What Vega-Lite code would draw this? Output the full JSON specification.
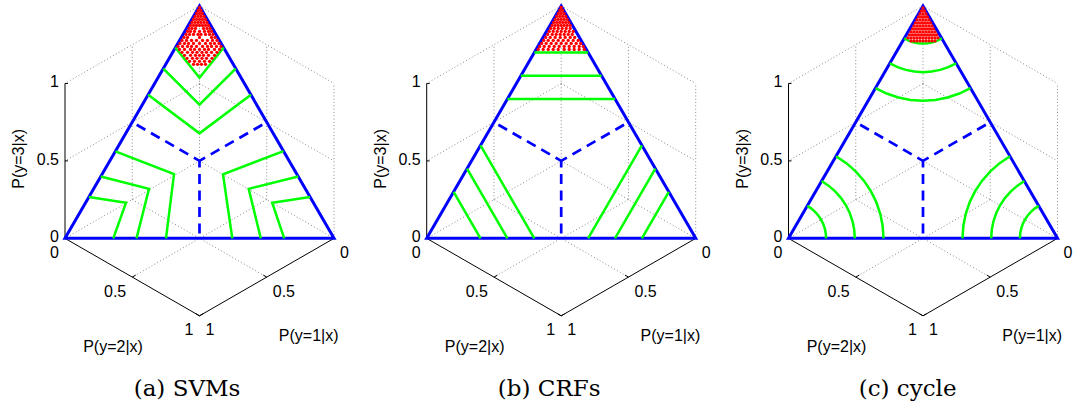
{
"$schema": "https://vega.github.io/schema/vega-lite/v6.json",
"width": 1078, "height": 406,
"autosize": {"type": "fit", "contains": "padding"},
"padding": 0,
"background": "#ffffff",
"config": {"view": {"stroke": null}},
"data": {"values": [
{"p":"all","kind":"grid","id":"g1","k":0,"dx":0,"y":160.3},{"p":"all","kind":"grid","id":"g1","k":1,"dx":134.5,"y":237.95},
{"p":"all","kind":"grid","id":"g2","k":0,"dx":0,"y":160.3},{"p":"all","kind":"grid","id":"g2","k":1,"dx":-134.5,"y":237.95},
{"p":"all","kind":"grid","id":"g3","k":0,"dx":-67.25,"y":199.1},{"p":"all","kind":"grid","id":"g3","k":1,"dx":67.25,"y":276.8},
{"p":"all","kind":"grid","id":"g4","k":0,"dx":67.25,"y":199.1},{"p":"all","kind":"grid","id":"g4","k":1,"dx":-67.25,"y":276.8},
{"p":"all","kind":"grid","id":"g5","k":0,"dx":0,"y":160.3},{"p":"all","kind":"grid","id":"g5","k":1,"dx":0,"y":5},
{"p":"all","kind":"grid","id":"g6","k":0,"dx":67.25,"y":199.1},{"p":"all","kind":"grid","id":"g6","k":1,"dx":67.25,"y":43.8},
{"p":"all","kind":"grid","id":"g7","k":0,"dx":134.5,"y":237.95},{"p":"all","kind":"grid","id":"g7","k":1,"dx":134.5,"y":82.65},
{"p":"all","kind":"grid","id":"g8","k":0,"dx":0,"y":82.65},{"p":"all","kind":"grid","id":"g8","k":1,"dx":134.5,"y":160.3},
{"p":"all","kind":"grid","id":"g9","k":0,"dx":0,"y":5},{"p":"all","kind":"grid","id":"g9","k":1,"dx":134.5,"y":82.65},
{"p":"all","kind":"grid","id":"g10","k":0,"dx":-67.25,"y":199.1},{"p":"all","kind":"grid","id":"g10","k":1,"dx":-67.25,"y":43.8},
{"p":"all","kind":"grid","id":"g11","k":0,"dx":0,"y":82.65},{"p":"all","kind":"grid","id":"g11","k":1,"dx":-134.5,"y":160.3},
{"p":"all","kind":"grid","id":"g12","k":0,"dx":0,"y":5},{"p":"all","kind":"grid","id":"g12","k":1,"dx":-134.5,"y":82.65},
{"p":"all","kind":"axis","id":"ax1","k":0,"dx":-134.5,"y":237.95},{"p":"all","kind":"axis","id":"ax1","k":1,"dx":-134.5,"y":82.65},
{"p":"all","kind":"axis","id":"ax2","k":0,"dx":-134.5,"y":237.95},{"p":"all","kind":"axis","id":"ax2","k":1,"dx":0,"y":315.6},
{"p":"all","kind":"axis","id":"ax3","k":0,"dx":0,"y":315.6},{"p":"all","kind":"axis","id":"ax3","k":1,"dx":134.5,"y":237.95},
{"p":"all","kind":"axis","id":"tk1","k":0,"dx":-134.5,"y":82.65},{"p":"all","kind":"axis","id":"tk1","k":1,"dx":-131.5,"y":82.65},
{"p":"all","kind":"axis","id":"tk2","k":0,"dx":-134.5,"y":160.3},{"p":"all","kind":"axis","id":"tk2","k":1,"dx":-131.5,"y":160.3},
{"p":"all","kind":"axis","id":"tk3","k":0,"dx":-67.25,"y":276.8},{"p":"all","kind":"axis","id":"tk3","k":1,"dx":-63.8,"y":274.8},
{"p":"all","kind":"axis","id":"tk4","k":0,"dx":0,"y":315.6},{"p":"all","kind":"axis","id":"tk4","k":1,"dx":3.46,"y":313.6},
{"p":"all","kind":"axis","id":"tk5","k":0,"dx":67.25,"y":276.8},{"p":"all","kind":"axis","id":"tk5","k":1,"dx":63.8,"y":274.8},
{"p":"all","kind":"axis","id":"tk6","k":0,"dx":0,"y":315.6},{"p":"all","kind":"axis","id":"tk6","k":1,"dx":-3.46,"y":313.6},
{"p":"all","kind":"tri","id":"tri","k":0,"dx":-134.5,"y":237.95},{"p":"all","kind":"tri","id":"tri","k":1,"dx":134.5,"y":237.95},{"p":"all","kind":"tri","id":"tri","k":2,"dx":0,"y":5},{"p":"all","kind":"tri","id":"tri","k":3,"dx":-134.5,"y":237.95},{"p":"all","kind":"tri","id":"tri","k":4,"dx":134.5,"y":237.95},
{"p":"all","kind":"bnd","id":"b1","k":0,"dx":0,"y":160.3},{"p":"all","kind":"bnd","id":"b1","k":1,"dx":0,"y":237.95},
{"p":"all","kind":"bnd","id":"b2","k":0,"dx":0,"y":160.3},{"p":"all","kind":"bnd","id":"b2","k":1,"dx":-67.25,"y":121.5},
{"p":"all","kind":"bnd","id":"b3","k":0,"dx":0,"y":160.3},{"p":"all","kind":"bnd","id":"b3","k":1,"dx":67.25,"y":121.5},
{"p":"all","kind":"zr","text":"1","dx":-140.5,"y":81.5},{"p":"all","kind":"zr","text":"0.5","dx":-140.5,"y":159},{"p":"all","kind":"zr","text":"0","dx":-140.5,"y":237},
{"p":"all","kind":"zr","text":"0","dx":-140.5,"y":252.3},{"p":"all","kind":"zr","text":"0.5","dx":-73.25,"y":291.5},{"p":"all","kind":"zr","text":"1","dx":-6,"y":330},
{"p":"all","kind":"xl","text":"0","dx":140.5,"y":252.3},{"p":"all","kind":"xl","text":"0.5","dx":73.25,"y":291.5},{"p":"all","kind":"xl","text":"1","dx":6,"y":330},
{"p":"all","kind":"t3","text":"P(y=3|x)","dx":-180.5,"y":158.3},
{"p":"all","kind":"t12","text":"P(y=2|x)","dx":-86.5,"y":346.5},
{"p":"all","kind":"t12","text":"P(y=1|x)","dx":109.2,"y":335.5},
{"p":"a","kind":"cap","text":"(a) SVMs","dx":-12.5,"y":389},
{"p":"b","kind":"cap","text":"(b) CRFs","dx":-12,"y":389},
{"p":"c","kind":"cap","text":"(c) cycle","dx":-15.4,"y":389},
{"p":"a","kind":"ctr","id":"v1","k":0,"dx":-24.2,"y":46.7},{"p":"a","kind":"ctr","id":"v1","k":1,"dx":0,"y":77},{"p":"a","kind":"ctr","id":"v1","k":2,"dx":24.2,"y":46.7},
{"p":"a","kind":"ctr","id":"v2","k":0,"dx":-36.2,"y":67.7},{"p":"a","kind":"ctr","id":"v2","k":1,"dx":0,"y":104},{"p":"a","kind":"ctr","id":"v2","k":2,"dx":36.2,"y":67.7},
{"p":"a","kind":"ctr","id":"v3","k":0,"dx":-51.4,"y":94},{"p":"a","kind":"ctr","id":"v3","k":1,"dx":0,"y":132.7},{"p":"a","kind":"ctr","id":"v3","k":2,"dx":51.4,"y":94},
{"p":"a","kind":"ctr","id":"l1","k":0,"dx":-84.1,"y":150.7},{"p":"a","kind":"ctr","id":"l1","k":1,"dx":-25.5,"y":173.5},{"p":"a","kind":"ctr","id":"l1","k":2,"dx":-33.5,"y":238},
{"p":"a","kind":"ctr","id":"l2","k":0,"dx":-98.7,"y":176},{"p":"a","kind":"ctr","id":"l2","k":1,"dx":-50.5,"y":188.3},{"p":"a","kind":"ctr","id":"l2","k":2,"dx":-63,"y":238},
{"p":"a","kind":"ctr","id":"l3","k":0,"dx":-110.6,"y":196.5},{"p":"a","kind":"ctr","id":"l3","k":1,"dx":-73.5,"y":202.2},{"p":"a","kind":"ctr","id":"l3","k":2,"dx":-86.2,"y":238},
{"p":"a","kind":"ctr","id":"r1","k":0,"dx":84,"y":150.5},{"p":"a","kind":"ctr","id":"r1","k":1,"dx":23.5,"y":173.7},{"p":"a","kind":"ctr","id":"r1","k":2,"dx":32.8,"y":238},
{"p":"a","kind":"ctr","id":"r2","k":0,"dx":98.7,"y":176},{"p":"a","kind":"ctr","id":"r2","k":1,"dx":49.2,"y":188.3},{"p":"a","kind":"ctr","id":"r2","k":2,"dx":61.3,"y":238},
{"p":"a","kind":"ctr","id":"r3","k":0,"dx":110.6,"y":196.5},{"p":"a","kind":"ctr","id":"r3","k":1,"dx":72.7,"y":202.2},{"p":"a","kind":"ctr","id":"r3","k":2,"dx":84.7,"y":238},
{"p":"b","kind":"ctr","id":"h1","k":0,"dx":-26.9,"y":51.6},{"p":"b","kind":"ctr","id":"h1","k":1,"dx":26.9,"y":51.6},
{"p":"b","kind":"ctr","id":"h2","k":0,"dx":-40.35,"y":74.9},{"p":"b","kind":"ctr","id":"h2","k":1,"dx":40.35,"y":74.9},
{"p":"b","kind":"ctr","id":"h3","k":0,"dx":-53.8,"y":98.2},{"p":"b","kind":"ctr","id":"h3","k":1,"dx":53.8,"y":98.2},
{"p":"b","kind":"ctr","id":"l1","k":0,"dx":-80.7,"y":144.8},{"p":"b","kind":"ctr","id":"l1","k":1,"dx":-26.9,"y":237.95},
{"p":"b","kind":"ctr","id":"l2","k":0,"dx":-94.15,"y":168.1},{"p":"b","kind":"ctr","id":"l2","k":1,"dx":-53.8,"y":237.95},
{"p":"b","kind":"ctr","id":"l3","k":0,"dx":-107.6,"y":191.4},{"p":"b","kind":"ctr","id":"l3","k":1,"dx":-80.7,"y":237.95},
{"p":"b","kind":"ctr","id":"r1","k":0,"dx":80.7,"y":144.8},{"p":"b","kind":"ctr","id":"r1","k":1,"dx":26.9,"y":237.95},
{"p":"b","kind":"ctr","id":"r2","k":0,"dx":94.15,"y":168.1},{"p":"b","kind":"ctr","id":"r2","k":1,"dx":53.8,"y":237.95},
{"p":"b","kind":"ctr","id":"r3","k":0,"dx":107.6,"y":191.4},{"p":"b","kind":"ctr","id":"r3","k":1,"dx":80.7,"y":237.95},
{"p":"c","kind":"ctr","id":"t1","k":0,"dx":-18.8,"y":37.56},{"p":"c","kind":"ctr","id":"t1","k":1,"dx":-14.39,"y":39.74},{"p":"c","kind":"ctr","id":"t1","k":2,"dx":-9.73,"y":41.32},{"p":"c","kind":"ctr","id":"t1","k":3,"dx":-4.91,"y":42.28},{"p":"c","kind":"ctr","id":"t1","k":4,"dx":0,"y":42.6},{"p":"c","kind":"ctr","id":"t1","k":5,"dx":4.91,"y":42.28},{"p":"c","kind":"ctr","id":"t1","k":6,"dx":9.73,"y":41.32},{"p":"c","kind":"ctr","id":"t1","k":7,"dx":14.39,"y":39.74},{"p":"c","kind":"ctr","id":"t1","k":8,"dx":18.8,"y":37.56},
{"p":"c","kind":"ctr","id":"t2","k":0,"dx":-33.15,"y":62.42},{"p":"c","kind":"ctr","id":"t2","k":1,"dx":-25.37,"y":66.25},{"p":"c","kind":"ctr","id":"t2","k":2,"dx":-17.16,"y":69.04},{"p":"c","kind":"ctr","id":"t2","k":3,"dx":-8.65,"y":70.73},{"p":"c","kind":"ctr","id":"t2","k":4,"dx":0,"y":71.3},{"p":"c","kind":"ctr","id":"t2","k":5,"dx":8.65,"y":70.73},{"p":"c","kind":"ctr","id":"t2","k":6,"dx":17.16,"y":69.04},{"p":"c","kind":"ctr","id":"t2","k":7,"dx":25.37,"y":66.25},{"p":"c","kind":"ctr","id":"t2","k":8,"dx":33.15,"y":62.42},
{"p":"c","kind":"ctr","id":"t3","k":0,"dx":-47.5,"y":87.27},{"p":"c","kind":"ctr","id":"t3","k":1,"dx":-36.36,"y":92.77},{"p":"c","kind":"ctr","id":"t3","k":2,"dx":-24.59,"y":96.76},{"p":"c","kind":"ctr","id":"t3","k":3,"dx":-12.4,"y":99.18},{"p":"c","kind":"ctr","id":"t3","k":4,"dx":0,"y":100},{"p":"c","kind":"ctr","id":"t3","k":5,"dx":12.4,"y":99.18},{"p":"c","kind":"ctr","id":"t3","k":6,"dx":24.59,"y":96.76},{"p":"c","kind":"ctr","id":"t3","k":7,"dx":36.36,"y":92.77},{"p":"c","kind":"ctr","id":"t3","k":8,"dx":47.5,"y":87.27},
{"p":"c","kind":"ctr","id":"l1","k":0,"dx":-115.7,"y":205.39},{"p":"c","kind":"ctr","id":"l1","k":1,"dx":-111.61,"y":208.12},{"p":"c","kind":"ctr","id":"l1","k":2,"dx":-107.91,"y":211.36},{"p":"c","kind":"ctr","id":"l1","k":3,"dx":-104.67,"y":215.06},{"p":"c","kind":"ctr","id":"l1","k":4,"dx":-101.94,"y":219.15},{"p":"c","kind":"ctr","id":"l1","k":5,"dx":-99.76,"y":223.56},{"p":"c","kind":"ctr","id":"l1","k":6,"dx":-98.18,"y":228.22},{"p":"c","kind":"ctr","id":"l1","k":7,"dx":-97.22,"y":233.04},{"p":"c","kind":"ctr","id":"l1","k":8,"dx":-96.9,"y":237.95},
{"p":"c","kind":"ctr","id":"l2","k":0,"dx":-101.35,"y":180.53},{"p":"c","kind":"ctr","id":"l2","k":1,"dx":-94.14,"y":185.35},{"p":"c","kind":"ctr","id":"l2","k":2,"dx":-87.62,"y":191.07},{"p":"c","kind":"ctr","id":"l2","k":3,"dx":-81.9,"y":197.59},{"p":"c","kind":"ctr","id":"l2","k":4,"dx":-77.08,"y":204.8},{"p":"c","kind":"ctr","id":"l2","k":5,"dx":-73.25,"y":212.58},{"p":"c","kind":"ctr","id":"l2","k":6,"dx":-70.46,"y":220.79},{"p":"c","kind":"ctr","id":"l2","k":7,"dx":-68.77,"y":229.3},{"p":"c","kind":"ctr","id":"l2","k":8,"dx":-68.2,"y":237.95},
{"p":"c","kind":"ctr","id":"l3","k":0,"dx":-87.0,"y":155.68},{"p":"c","kind":"ctr","id":"l3","k":1,"dx":-76.66,"y":162.58},{"p":"c","kind":"ctr","id":"l3","k":2,"dx":-67.33,"y":170.78},{"p":"c","kind":"ctr","id":"l3","k":3,"dx":-59.13,"y":180.11},{"p":"c","kind":"ctr","id":"l3","k":4,"dx":-52.23,"y":190.45},{"p":"c","kind":"ctr","id":"l3","k":5,"dx":-46.73,"y":201.59},{"p":"c","kind":"ctr","id":"l3","k":6,"dx":-42.74,"y":213.36},{"p":"c","kind":"ctr","id":"l3","k":7,"dx":-40.32,"y":225.55},{"p":"c","kind":"ctr","id":"l3","k":8,"dx":-39.5,"y":237.95},
{"p":"c","kind":"ctr","id":"r1","k":0,"dx":115.7,"y":205.39},{"p":"c","kind":"ctr","id":"r1","k":1,"dx":111.61,"y":208.12},{"p":"c","kind":"ctr","id":"r1","k":2,"dx":107.91,"y":211.36},{"p":"c","kind":"ctr","id":"r1","k":3,"dx":104.67,"y":215.06},{"p":"c","kind":"ctr","id":"r1","k":4,"dx":101.94,"y":219.15},{"p":"c","kind":"ctr","id":"r1","k":5,"dx":99.76,"y":223.56},{"p":"c","kind":"ctr","id":"r1","k":6,"dx":98.18,"y":228.22},{"p":"c","kind":"ctr","id":"r1","k":7,"dx":97.22,"y":233.04},{"p":"c","kind":"ctr","id":"r1","k":8,"dx":96.9,"y":237.95},
{"p":"c","kind":"ctr","id":"r2","k":0,"dx":101.35,"y":180.53},{"p":"c","kind":"ctr","id":"r2","k":1,"dx":94.14,"y":185.35},{"p":"c","kind":"ctr","id":"r2","k":2,"dx":87.62,"y":191.07},{"p":"c","kind":"ctr","id":"r2","k":3,"dx":81.9,"y":197.59},{"p":"c","kind":"ctr","id":"r2","k":4,"dx":77.08,"y":204.8},{"p":"c","kind":"ctr","id":"r2","k":5,"dx":73.25,"y":212.58},{"p":"c","kind":"ctr","id":"r2","k":6,"dx":70.46,"y":220.79},{"p":"c","kind":"ctr","id":"r2","k":7,"dx":68.77,"y":229.3},{"p":"c","kind":"ctr","id":"r2","k":8,"dx":68.2,"y":237.95},
{"p":"c","kind":"ctr","id":"r3","k":0,"dx":87.0,"y":155.68},{"p":"c","kind":"ctr","id":"r3","k":1,"dx":76.66,"y":162.58},{"p":"c","kind":"ctr","id":"r3","k":2,"dx":67.33,"y":170.78},{"p":"c","kind":"ctr","id":"r3","k":3,"dx":59.13,"y":180.11},{"p":"c","kind":"ctr","id":"r3","k":4,"dx":52.23,"y":190.45},{"p":"c","kind":"ctr","id":"r3","k":5,"dx":46.73,"y":201.59},{"p":"c","kind":"ctr","id":"r3","k":6,"dx":42.74,"y":213.36},{"p":"c","kind":"ctr","id":"r3","k":7,"dx":40.32,"y":225.55},{"p":"c","kind":"ctr","id":"r3","k":8,"dx":39.5,"y":237.95},
{"p":"a","kind":"dot","dx":0,"y":6.5},
{"p":"a","kind":"dot","dx":-1.3,"y":9.5},{"p":"a","kind":"dot","dx":1.3,"y":9.5},
{"p":"a","kind":"dot","dx":-2.8,"y":12.5},{"p":"a","kind":"dot","dx":0,"y":12.5},{"p":"a","kind":"dot","dx":2.8,"y":12.5},
{"p":"a","kind":"dot","dx":-4.5,"y":15.5},{"p":"a","kind":"dot","dx":-1.5,"y":15.5},{"p":"a","kind":"dot","dx":1.5,"y":15.5},{"p":"a","kind":"dot","dx":4.5,"y":15.5},
{"p":"a","kind":"dot","dx":-6,"y":18.5},{"p":"a","kind":"dot","dx":-3,"y":18.5},{"p":"a","kind":"dot","dx":0,"y":18.5},{"p":"a","kind":"dot","dx":3,"y":18.5},{"p":"a","kind":"dot","dx":6,"y":18.5},
{"p":"a","kind":"dot","dx":-7.5,"y":21.5},{"p":"a","kind":"dot","dx":-4.5,"y":21.5},{"p":"a","kind":"dot","dx":-1.5,"y":21.5},{"p":"a","kind":"dot","dx":1.5,"y":21.5},{"p":"a","kind":"dot","dx":4.5,"y":21.5},{"p":"a","kind":"dot","dx":7.5,"y":21.5},
{"p":"a","kind":"dot","dx":-9,"y":24.5},{"p":"a","kind":"dot","dx":-6,"y":24.5},{"p":"a","kind":"dot","dx":-3,"y":24.5},{"p":"a","kind":"dot","dx":0,"y":24.5},{"p":"a","kind":"dot","dx":3,"y":24.5},{"p":"a","kind":"dot","dx":6,"y":24.5},{"p":"a","kind":"dot","dx":9,"y":24.5},
{"p":"a","kind":"dot","dx":-10.5,"y":27.5},{"p":"a","kind":"dot","dx":-7.5,"y":27.5},{"p":"a","kind":"dot","dx":-4,"y":27.5},{"p":"a","kind":"dot","dx":4,"y":27.5},{"p":"a","kind":"dot","dx":7.5,"y":27.5},{"p":"a","kind":"dot","dx":10.5,"y":27.5},
{"p":"a","kind":"dot","dx":-12,"y":30.5},{"p":"a","kind":"dot","dx":-9,"y":30.5},{"p":"a","kind":"dot","dx":-5,"y":30.5},{"p":"a","kind":"dot","dx":0,"y":30.5},{"p":"a","kind":"dot","dx":5,"y":30.5},{"p":"a","kind":"dot","dx":9,"y":30.5},{"p":"a","kind":"dot","dx":12,"y":30.5},
{"p":"a","kind":"dot","dx":-13.5,"y":33.5},{"p":"a","kind":"dot","dx":-10,"y":33.5},{"p":"a","kind":"dot","dx":-6,"y":33.5},{"p":"a","kind":"dot","dx":-1.5,"y":33.5},{"p":"a","kind":"dot","dx":1.5,"y":33.5},{"p":"a","kind":"dot","dx":6,"y":33.5},{"p":"a","kind":"dot","dx":10,"y":33.5},{"p":"a","kind":"dot","dx":13.5,"y":33.5},
{"p":"a","kind":"dot","dx":-15.5,"y":36.5},{"p":"a","kind":"dot","dx":-12,"y":36.5},{"p":"a","kind":"dot","dx":0,"y":36.5},{"p":"a","kind":"dot","dx":12,"y":36.5},{"p":"a","kind":"dot","dx":15.5,"y":36.5},
{"p":"a","kind":"dot","dx":-17.5,"y":39.5},{"p":"a","kind":"dot","dx":-13,"y":39.5},{"p":"a","kind":"dot","dx":-8,"y":39.5},{"p":"a","kind":"dot","dx":-3,"y":39.5},{"p":"a","kind":"dot","dx":3,"y":39.5},{"p":"a","kind":"dot","dx":8,"y":39.5},{"p":"a","kind":"dot","dx":13,"y":39.5},{"p":"a","kind":"dot","dx":17.5,"y":39.5},
{"p":"a","kind":"dot","dx":-19.5,"y":42.5},{"p":"a","kind":"dot","dx":-15,"y":42.5},{"p":"a","kind":"dot","dx":-11,"y":42.5},{"p":"a","kind":"dot","dx":-6,"y":42.5},{"p":"a","kind":"dot","dx":0,"y":42.5},{"p":"a","kind":"dot","dx":6,"y":42.5},{"p":"a","kind":"dot","dx":11,"y":42.5},{"p":"a","kind":"dot","dx":15,"y":42.5},{"p":"a","kind":"dot","dx":19.5,"y":42.5},
{"p":"a","kind":"dot","dx":-21.5,"y":45.5},{"p":"a","kind":"dot","dx":-17,"y":45.5},{"p":"a","kind":"dot","dx":-12,"y":45.5},{"p":"a","kind":"dot","dx":-8,"y":45.5},{"p":"a","kind":"dot","dx":-3,"y":45.5},{"p":"a","kind":"dot","dx":3,"y":45.5},{"p":"a","kind":"dot","dx":8,"y":45.5},{"p":"a","kind":"dot","dx":12,"y":45.5},{"p":"a","kind":"dot","dx":17,"y":45.5},{"p":"a","kind":"dot","dx":21.5,"y":45.5},
{"p":"a","kind":"dot","dx":-20,"y":48.5},{"p":"a","kind":"dot","dx":-15,"y":48.5},{"p":"a","kind":"dot","dx":-9,"y":48.5},{"p":"a","kind":"dot","dx":-5,"y":48.5},{"p":"a","kind":"dot","dx":0,"y":48.5},{"p":"a","kind":"dot","dx":5,"y":48.5},{"p":"a","kind":"dot","dx":9,"y":48.5},{"p":"a","kind":"dot","dx":15,"y":48.5},{"p":"a","kind":"dot","dx":20,"y":48.5},
{"p":"a","kind":"dot","dx":-17.5,"y":51.5},{"p":"a","kind":"dot","dx":-12,"y":51.5},{"p":"a","kind":"dot","dx":-7,"y":51.5},{"p":"a","kind":"dot","dx":-2.5,"y":51.5},{"p":"a","kind":"dot","dx":2.5,"y":51.5},{"p":"a","kind":"dot","dx":7,"y":51.5},{"p":"a","kind":"dot","dx":12,"y":51.5},{"p":"a","kind":"dot","dx":17.5,"y":51.5},
{"p":"a","kind":"dot","dx":-15,"y":54.5},{"p":"a","kind":"dot","dx":-9,"y":54.5},{"p":"a","kind":"dot","dx":-4,"y":54.5},{"p":"a","kind":"dot","dx":0,"y":54.5},{"p":"a","kind":"dot","dx":4,"y":54.5},{"p":"a","kind":"dot","dx":9,"y":54.5},{"p":"a","kind":"dot","dx":15,"y":54.5},
{"p":"a","kind":"dot","dx":-12.5,"y":57.5},{"p":"a","kind":"dot","dx":-7,"y":57.5},{"p":"a","kind":"dot","dx":-2.5,"y":57.5},{"p":"a","kind":"dot","dx":2.5,"y":57.5},{"p":"a","kind":"dot","dx":7,"y":57.5},{"p":"a","kind":"dot","dx":12.5,"y":57.5},
{"p":"a","kind":"dot","dx":-10,"y":60.5},{"p":"a","kind":"dot","dx":-5,"y":60.5},{"p":"a","kind":"dot","dx":0,"y":60.5},{"p":"a","kind":"dot","dx":5,"y":60.5},{"p":"a","kind":"dot","dx":10,"y":60.5},
{"p":"a","kind":"dot","dx":-6,"y":63.5},{"p":"a","kind":"dot","dx":-2,"y":63.5},{"p":"a","kind":"dot","dx":2,"y":63.5},{"p":"a","kind":"dot","dx":6,"y":63.5},
{"p":"b","kind":"dot","dx":0,"y":6.5},
{"p":"b","kind":"dot","dx":-1.3,"y":9.5},{"p":"b","kind":"dot","dx":1.3,"y":9.5},
{"p":"b","kind":"dot","dx":-2.8,"y":12.5},{"p":"b","kind":"dot","dx":0,"y":12.5},{"p":"b","kind":"dot","dx":2.8,"y":12.5},
{"p":"b","kind":"dot","dx":-4.5,"y":15.5},{"p":"b","kind":"dot","dx":-1.5,"y":15.5},{"p":"b","kind":"dot","dx":1.5,"y":15.5},{"p":"b","kind":"dot","dx":4.5,"y":15.5},
{"p":"b","kind":"dot","dx":-6,"y":18.5},{"p":"b","kind":"dot","dx":-3,"y":18.5},{"p":"b","kind":"dot","dx":0,"y":18.5},{"p":"b","kind":"dot","dx":3,"y":18.5},{"p":"b","kind":"dot","dx":6,"y":18.5},
{"p":"b","kind":"dot","dx":-7.5,"y":21.5},{"p":"b","kind":"dot","dx":-4.5,"y":21.5},{"p":"b","kind":"dot","dx":-1.5,"y":21.5},{"p":"b","kind":"dot","dx":1.5,"y":21.5},{"p":"b","kind":"dot","dx":4.5,"y":21.5},{"p":"b","kind":"dot","dx":7.5,"y":21.5},
{"p":"b","kind":"dot","dx":-9,"y":24.5},{"p":"b","kind":"dot","dx":-6,"y":24.5},{"p":"b","kind":"dot","dx":-3,"y":24.5},{"p":"b","kind":"dot","dx":0,"y":24.5},{"p":"b","kind":"dot","dx":3,"y":24.5},{"p":"b","kind":"dot","dx":6,"y":24.5},{"p":"b","kind":"dot","dx":9,"y":24.5},
{"p":"b","kind":"dot","dx":-10.5,"y":27.5},{"p":"b","kind":"dot","dx":-7,"y":27.5},{"p":"b","kind":"dot","dx":-3,"y":27.5},{"p":"b","kind":"dot","dx":1,"y":27.5},{"p":"b","kind":"dot","dx":5,"y":27.5},{"p":"b","kind":"dot","dx":9,"y":27.5},
{"p":"b","kind":"dot","dx":-12,"y":30.5},{"p":"b","kind":"dot","dx":-8,"y":30.5},{"p":"b","kind":"dot","dx":-4,"y":30.5},{"p":"b","kind":"dot","dx":0,"y":30.5},{"p":"b","kind":"dot","dx":4,"y":30.5},{"p":"b","kind":"dot","dx":8,"y":30.5},{"p":"b","kind":"dot","dx":12,"y":30.5},
{"p":"b","kind":"dot","dx":-13.5,"y":33.5},{"p":"b","kind":"dot","dx":-9,"y":33.5},{"p":"b","kind":"dot","dx":-5,"y":33.5},{"p":"b","kind":"dot","dx":-1,"y":33.5},{"p":"b","kind":"dot","dx":3,"y":33.5},{"p":"b","kind":"dot","dx":7,"y":33.5},{"p":"b","kind":"dot","dx":11,"y":33.5},
{"p":"b","kind":"dot","dx":-15.5,"y":36.5},{"p":"b","kind":"dot","dx":-11,"y":36.5},{"p":"b","kind":"dot","dx":-6,"y":36.5},{"p":"b","kind":"dot","dx":-1,"y":36.5},{"p":"b","kind":"dot","dx":4,"y":36.5},{"p":"b","kind":"dot","dx":9,"y":36.5},{"p":"b","kind":"dot","dx":13.5,"y":36.5},
{"p":"b","kind":"dot","dx":-17.5,"y":39.5},{"p":"b","kind":"dot","dx":-13,"y":39.5},{"p":"b","kind":"dot","dx":-8,"y":39.5},{"p":"b","kind":"dot","dx":-3,"y":39.5},{"p":"b","kind":"dot","dx":2,"y":39.5},{"p":"b","kind":"dot","dx":7,"y":39.5},{"p":"b","kind":"dot","dx":12,"y":39.5},{"p":"b","kind":"dot","dx":17,"y":39.5},
{"p":"b","kind":"dot","dx":-19.5,"y":42.5},{"p":"b","kind":"dot","dx":-15,"y":42.5},{"p":"b","kind":"dot","dx":-10,"y":42.5},{"p":"b","kind":"dot","dx":-5,"y":42.5},{"p":"b","kind":"dot","dx":0,"y":42.5},{"p":"b","kind":"dot","dx":5,"y":42.5},{"p":"b","kind":"dot","dx":10,"y":42.5},{"p":"b","kind":"dot","dx":15,"y":42.5},{"p":"b","kind":"dot","dx":19.5,"y":42.5},
{"p":"b","kind":"dot","dx":-21.5,"y":45.5},{"p":"b","kind":"dot","dx":-17,"y":45.5},{"p":"b","kind":"dot","dx":-12,"y":45.5},{"p":"b","kind":"dot","dx":-7,"y":45.5},{"p":"b","kind":"dot","dx":-2,"y":45.5},{"p":"b","kind":"dot","dx":3,"y":45.5},{"p":"b","kind":"dot","dx":8,"y":45.5},{"p":"b","kind":"dot","dx":13,"y":45.5},{"p":"b","kind":"dot","dx":18,"y":45.5},{"p":"b","kind":"dot","dx":22,"y":45.5},
{"p":"b","kind":"dot","dx":-23,"y":48.5},{"p":"b","kind":"dot","dx":-18,"y":48.5},{"p":"b","kind":"dot","dx":-13,"y":48.5},{"p":"b","kind":"dot","dx":-8,"y":48.5},{"p":"b","kind":"dot","dx":-3,"y":48.5},{"p":"b","kind":"dot","dx":3,"y":48.5},{"p":"b","kind":"dot","dx":8,"y":48.5},{"p":"b","kind":"dot","dx":13,"y":48.5},{"p":"b","kind":"dot","dx":18,"y":48.5},{"p":"b","kind":"dot","dx":23,"y":48.5},
{"p":"c","kind":"dot","dx":0,"y":7},
{"p":"c","kind":"dot","dx":-1.5,"y":10},{"p":"c","kind":"dot","dx":1.5,"y":10},
{"p":"c","kind":"dot","dx":-3,"y":13},{"p":"c","kind":"dot","dx":0,"y":13},{"p":"c","kind":"dot","dx":3,"y":13},
{"p":"c","kind":"dot","dx":-4.5,"y":16},{"p":"c","kind":"dot","dx":-1.5,"y":16},{"p":"c","kind":"dot","dx":1.5,"y":16},{"p":"c","kind":"dot","dx":4.5,"y":16},
{"p":"c","kind":"dot","dx":-6,"y":19},{"p":"c","kind":"dot","dx":-3,"y":19},{"p":"c","kind":"dot","dx":0,"y":19},{"p":"c","kind":"dot","dx":3,"y":19},{"p":"c","kind":"dot","dx":6,"y":19},
{"p":"c","kind":"dot","dx":-7.5,"y":22},{"p":"c","kind":"dot","dx":-4.5,"y":22},{"p":"c","kind":"dot","dx":-1.5,"y":22},{"p":"c","kind":"dot","dx":1.5,"y":22},{"p":"c","kind":"dot","dx":4.5,"y":22},{"p":"c","kind":"dot","dx":7.5,"y":22},
{"p":"c","kind":"dot","dx":-9,"y":25},{"p":"c","kind":"dot","dx":-6,"y":25},{"p":"c","kind":"dot","dx":-3,"y":25},{"p":"c","kind":"dot","dx":0,"y":25},{"p":"c","kind":"dot","dx":3,"y":25},{"p":"c","kind":"dot","dx":6,"y":25},{"p":"c","kind":"dot","dx":9,"y":25},
{"p":"c","kind":"dot","dx":-10.5,"y":28},{"p":"c","kind":"dot","dx":-7.5,"y":28},{"p":"c","kind":"dot","dx":-4.5,"y":28},{"p":"c","kind":"dot","dx":-1.5,"y":28},{"p":"c","kind":"dot","dx":1.5,"y":28},{"p":"c","kind":"dot","dx":4.5,"y":28},{"p":"c","kind":"dot","dx":7.5,"y":28},{"p":"c","kind":"dot","dx":10.5,"y":28},
{"p":"c","kind":"dot","dx":-12,"y":31},{"p":"c","kind":"dot","dx":-9,"y":31},{"p":"c","kind":"dot","dx":-6,"y":31},{"p":"c","kind":"dot","dx":-3,"y":31},{"p":"c","kind":"dot","dx":0,"y":31},{"p":"c","kind":"dot","dx":3,"y":31},{"p":"c","kind":"dot","dx":6,"y":31},{"p":"c","kind":"dot","dx":9,"y":31},{"p":"c","kind":"dot","dx":12,"y":31},
{"p":"c","kind":"dot","dx":-13.5,"y":34},{"p":"c","kind":"dot","dx":-10.5,"y":34},{"p":"c","kind":"dot","dx":-7.5,"y":34},{"p":"c","kind":"dot","dx":-4.5,"y":34},{"p":"c","kind":"dot","dx":-1.5,"y":34},{"p":"c","kind":"dot","dx":1.5,"y":34},{"p":"c","kind":"dot","dx":4.5,"y":34},{"p":"c","kind":"dot","dx":7.5,"y":34},{"p":"c","kind":"dot","dx":10.5,"y":34},{"p":"c","kind":"dot","dx":13.5,"y":34},
{"p":"c","kind":"dot","dx":-15,"y":37},{"p":"c","kind":"dot","dx":-12,"y":37},{"p":"c","kind":"dot","dx":-9,"y":37},{"p":"c","kind":"dot","dx":-6,"y":37},{"p":"c","kind":"dot","dx":-3,"y":37},{"p":"c","kind":"dot","dx":0,"y":37},{"p":"c","kind":"dot","dx":3,"y":37},{"p":"c","kind":"dot","dx":6,"y":37},{"p":"c","kind":"dot","dx":9,"y":37},{"p":"c","kind":"dot","dx":12,"y":37},{"p":"c","kind":"dot","dx":15,"y":37},
{"p":"c","kind":"dot","dx":-12,"y":40},{"p":"c","kind":"dot","dx":-9,"y":40},{"p":"c","kind":"dot","dx":-6,"y":40},{"p":"c","kind":"dot","dx":-3,"y":40},{"p":"c","kind":"dot","dx":0,"y":40},{"p":"c","kind":"dot","dx":3,"y":40},{"p":"c","kind":"dot","dx":6,"y":40},{"p":"c","kind":"dot","dx":9,"y":40},{"p":"c","kind":"dot","dx":12,"y":40}
]},
"resolve": {"scale": {"x": "independent"}},
"layer": [
{
"transform": [{"filter": "datum.p === 'a' || datum.p === 'all'"}],
"encoding": {
 "x": {"field": "dx", "type": "quantitative", "scale": {"domain": [-199.5, 878.5], "nice": false, "zero": false}, "axis": null},
 "y": {"field": "y", "type": "quantitative", "scale": {"domain": [0, 406], "reverse": true, "nice": false, "zero": false}, "axis": null}
},
"layer": [
 {"transform": [{"filter": "datum.kind === 'grid'"}], "mark": {"type": "line", "stroke": "#8a8a8a", "strokeWidth": 1, "strokeDash": [1, 2.3]}, "encoding": {"detail": {"field": "id", "type": "nominal"}, "order": {"field": "k", "type": "quantitative"}}},
 {"transform": [{"filter": "datum.kind === 'axis'"}], "mark": {"type": "line", "stroke": "#000000", "strokeWidth": 1}, "encoding": {"detail": {"field": "id", "type": "nominal"}, "order": {"field": "k", "type": "quantitative"}}},
 {"transform": [{"filter": "datum.kind === 'tri'"}], "mark": {"type": "line", "stroke": "#0000ff", "strokeWidth": 3, "strokeJoin": "miter"}, "encoding": {"detail": {"field": "id", "type": "nominal"}, "order": {"field": "k", "type": "quantitative"}}},
 {"transform": [{"filter": "datum.kind === 'bnd'"}], "mark": {"type": "line", "stroke": "#0000ff", "strokeWidth": 2.7, "strokeDash": [10, 6.5], "strokeDashOffset": 3.5}, "encoding": {"detail": {"field": "id", "type": "nominal"}, "order": {"field": "k", "type": "quantitative"}}},
 {"transform": [{"filter": "datum.kind === 'ctr'"}], "mark": {"type": "line", "stroke": "#00ff00", "strokeWidth": 2.5}, "encoding": {"detail": {"field": "id", "type": "nominal"}, "order": {"field": "k", "type": "quantitative"}}},
 {"transform": [{"filter": "datum.kind === 'dot'"}], "mark": {"type": "circle", "color": "#ff0000", "size": 11, "opacity": 1}},
 {"transform": [{"filter": "datum.kind === 'zr'"}], "mark": {"type": "text", "align": "right", "baseline": "middle", "font": "Liberation Sans", "fontSize": 16, "color": "#000000"}, "encoding": {"text": {"field": "text", "type": "nominal"}}},
 {"transform": [{"filter": "datum.kind === 'xl'"}], "mark": {"type": "text", "align": "left", "baseline": "middle", "font": "Liberation Sans", "fontSize": 16, "color": "#000000"}, "encoding": {"text": {"field": "text", "type": "nominal"}}},
 {"transform": [{"filter": "datum.kind === 't3'"}], "mark": {"type": "text", "align": "center", "baseline": "middle", "angle": 270, "font": "Liberation Sans", "fontSize": 16, "color": "#000000"}, "encoding": {"text": {"field": "text", "type": "nominal"}}},
 {"transform": [{"filter": "datum.kind === 't12'"}], "mark": {"type": "text", "align": "center", "baseline": "middle", "font": "Liberation Sans", "fontSize": 16, "color": "#000000"}, "encoding": {"text": {"field": "text", "type": "nominal"}}},
 {"transform": [{"filter": "datum.kind === 'cap'"}], "mark": {"type": "text", "align": "center", "baseline": "middle", "font": "DejaVu Serif", "fontSize": 23, "color": "#000000"}, "encoding": {"text": {"field": "text", "type": "nominal"}}}
]
},
{
"transform": [{"filter": "datum.p === 'b' || datum.p === 'all'"}],
"encoding": {
 "x": {"field": "dx", "type": "quantitative", "scale": {"domain": [-561.2, 516.8], "nice": false, "zero": false}, "axis": null},
 "y": {"field": "y", "type": "quantitative", "scale": {"domain": [0, 406], "reverse": true, "nice": false, "zero": false}, "axis": null}
},
"layer": [
 {"transform": [{"filter": "datum.kind === 'grid'"}], "mark": {"type": "line", "stroke": "#8a8a8a", "strokeWidth": 1, "strokeDash": [1, 2.3]}, "encoding": {"detail": {"field": "id", "type": "nominal"}, "order": {"field": "k", "type": "quantitative"}}},
 {"transform": [{"filter": "datum.kind === 'axis'"}], "mark": {"type": "line", "stroke": "#000000", "strokeWidth": 1}, "encoding": {"detail": {"field": "id", "type": "nominal"}, "order": {"field": "k", "type": "quantitative"}}},
 {"transform": [{"filter": "datum.kind === 'tri'"}], "mark": {"type": "line", "stroke": "#0000ff", "strokeWidth": 3, "strokeJoin": "miter"}, "encoding": {"detail": {"field": "id", "type": "nominal"}, "order": {"field": "k", "type": "quantitative"}}},
 {"transform": [{"filter": "datum.kind === 'bnd'"}], "mark": {"type": "line", "stroke": "#0000ff", "strokeWidth": 2.7, "strokeDash": [10, 6.5], "strokeDashOffset": 3.5}, "encoding": {"detail": {"field": "id", "type": "nominal"}, "order": {"field": "k", "type": "quantitative"}}},
 {"transform": [{"filter": "datum.kind === 'ctr'"}], "mark": {"type": "line", "stroke": "#00ff00", "strokeWidth": 2.5}, "encoding": {"detail": {"field": "id", "type": "nominal"}, "order": {"field": "k", "type": "quantitative"}}},
 {"transform": [{"filter": "datum.kind === 'dot'"}], "mark": {"type": "circle", "color": "#ff0000", "size": 11, "opacity": 1}},
 {"transform": [{"filter": "datum.kind === 'zr'"}], "mark": {"type": "text", "align": "right", "baseline": "middle", "font": "Liberation Sans", "fontSize": 16, "color": "#000000"}, "encoding": {"text": {"field": "text", "type": "nominal"}}},
 {"transform": [{"filter": "datum.kind === 'xl'"}], "mark": {"type": "text", "align": "left", "baseline": "middle", "font": "Liberation Sans", "fontSize": 16, "color": "#000000"}, "encoding": {"text": {"field": "text", "type": "nominal"}}},
 {"transform": [{"filter": "datum.kind === 't3'"}], "mark": {"type": "text", "align": "center", "baseline": "middle", "angle": 270, "font": "Liberation Sans", "fontSize": 16, "color": "#000000"}, "encoding": {"text": {"field": "text", "type": "nominal"}}},
 {"transform": [{"filter": "datum.kind === 't12'"}], "mark": {"type": "text", "align": "center", "baseline": "middle", "font": "Liberation Sans", "fontSize": 16, "color": "#000000"}, "encoding": {"text": {"field": "text", "type": "nominal"}}},
 {"transform": [{"filter": "datum.kind === 'cap'"}], "mark": {"type": "text", "align": "center", "baseline": "middle", "font": "DejaVu Serif", "fontSize": 23, "color": "#000000"}, "encoding": {"text": {"field": "text", "type": "nominal"}}}
]
},
{
"transform": [{"filter": "datum.p === 'c' || datum.p === 'all'"}],
"encoding": {
 "x": {"field": "dx", "type": "quantitative", "scale": {"domain": [-923, 155], "nice": false, "zero": false}, "axis": null},
 "y": {"field": "y", "type": "quantitative", "scale": {"domain": [0, 406], "reverse": true, "nice": false, "zero": false}, "axis": null}
},
"layer": [
 {"transform": [{"filter": "datum.kind === 'grid'"}], "mark": {"type": "line", "stroke": "#8a8a8a", "strokeWidth": 1, "strokeDash": [1, 2.3]}, "encoding": {"detail": {"field": "id", "type": "nominal"}, "order": {"field": "k", "type": "quantitative"}}},
 {"transform": [{"filter": "datum.kind === 'axis'"}], "mark": {"type": "line", "stroke": "#000000", "strokeWidth": 1}, "encoding": {"detail": {"field": "id", "type": "nominal"}, "order": {"field": "k", "type": "quantitative"}}},
 {"transform": [{"filter": "datum.kind === 'tri'"}], "mark": {"type": "line", "stroke": "#0000ff", "strokeWidth": 3, "strokeJoin": "miter"}, "encoding": {"detail": {"field": "id", "type": "nominal"}, "order": {"field": "k", "type": "quantitative"}}},
 {"transform": [{"filter": "datum.kind === 'bnd'"}], "mark": {"type": "line", "stroke": "#0000ff", "strokeWidth": 2.7, "strokeDash": [10, 6.5], "strokeDashOffset": 3.5}, "encoding": {"detail": {"field": "id", "type": "nominal"}, "order": {"field": "k", "type": "quantitative"}}},
 {"transform": [{"filter": "datum.kind === 'ctr'"}], "mark": {"type": "line", "stroke": "#00ff00", "strokeWidth": 2.5}, "encoding": {"detail": {"field": "id", "type": "nominal"}, "order": {"field": "k", "type": "quantitative"}}},
 {"transform": [{"filter": "datum.kind === 'dot'"}], "mark": {"type": "circle", "color": "#ff0000", "size": 11, "opacity": 1}},
 {"transform": [{"filter": "datum.kind === 'zr'"}], "mark": {"type": "text", "align": "right", "baseline": "middle", "font": "Liberation Sans", "fontSize": 16, "color": "#000000"}, "encoding": {"text": {"field": "text", "type": "nominal"}}},
 {"transform": [{"filter": "datum.kind === 'xl'"}], "mark": {"type": "text", "align": "left", "baseline": "middle", "font": "Liberation Sans", "fontSize": 16, "color": "#000000"}, "encoding": {"text": {"field": "text", "type": "nominal"}}},
 {"transform": [{"filter": "datum.kind === 't3'"}], "mark": {"type": "text", "align": "center", "baseline": "middle", "angle": 270, "font": "Liberation Sans", "fontSize": 16, "color": "#000000"}, "encoding": {"text": {"field": "text", "type": "nominal"}}},
 {"transform": [{"filter": "datum.kind === 't12'"}], "mark": {"type": "text", "align": "center", "baseline": "middle", "font": "Liberation Sans", "fontSize": 16, "color": "#000000"}, "encoding": {"text": {"field": "text", "type": "nominal"}}},
 {"transform": [{"filter": "datum.kind === 'cap'"}], "mark": {"type": "text", "align": "center", "baseline": "middle", "font": "DejaVu Serif", "fontSize": 23, "color": "#000000"}, "encoding": {"text": {"field": "text", "type": "nominal"}}}
]
}
]
}
